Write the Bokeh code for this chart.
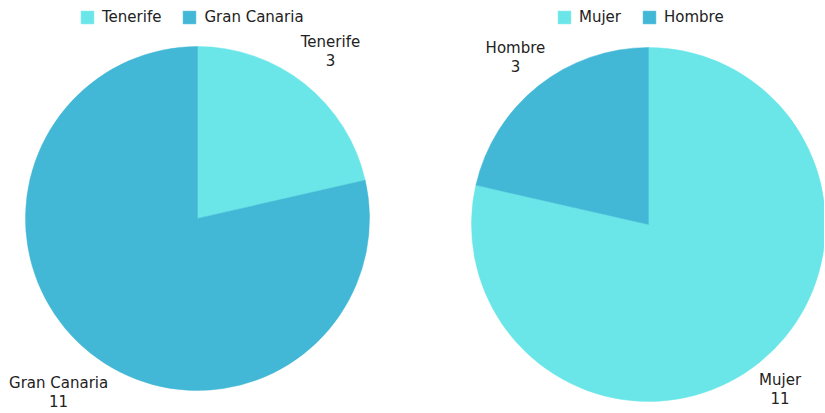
import math
from bokeh.plotting import figure
from bokeh.models import Range1d, Legend, LegendItem
from bokeh.layouts import row
from bokeh.core.properties import value
from bokeh.embed import file_html
from bokeh.resources import INLINE

# data
isla_labels = ["Tenerife", "Gran Canaria"]
isla_values = [3, 11]
sexo_labels = ["Mujer", "Hombre"]
sexo_values = [11, 3]
colors = ["#6AE6E9", "#42B8D6"]

FONT = "DejaVu Sans"
FS = 15
W, H = 412, 410


def make_pie(labels, vals, cx, cy, r, cols, leg_x):
    p = figure(width=W, height=H, output_backend="svg", toolbar_location=None,
               x_range=Range1d(0, W), y_range=Range1d(0, H), min_border=0)
    p.axis.visible = False
    p.grid.visible = False
    p.outline_line_color = None
    total = sum(vals)
    start = math.pi / 2
    starts, ends, lx, ly, txt = [], [], [], [], []
    for v, lab in zip(vals, labels):
        sweep = v / total * 2 * math.pi
        end = start - sweep
        starts.append(start)
        ends.append(end)
        mid = (start + end) / 2
        c, s = math.cos(mid), math.sin(mid)
        d = r + 22 + 2.4 * len(lab)
        lx.append(cx + d * c)
        ly.append(cy + d * s)
        txt.append(f"{lab}\n{v}")
        start = end
    items = []
    for i, lab in enumerate(labels):
        g = p.wedge(x=cx, y=cy, radius=r, start_angle=ends[i], end_angle=starts[i],
                    fill_color=cols[i], line_color=cols[i], line_width=0.5)
        items.append(LegendItem(label=lab, renderers=[g]))
    p.text(x=lx, y=ly, text=txt, text_align="center", text_baseline="middle",
           text_font=value(FONT), text_font_size=f"{FS}px", text_color="#222222",
           text_line_height=1.05)
    leg = Legend(items=items, orientation="horizontal", location=(leg_x, H - 26),
                 label_text_font=FONT, label_text_font_size=f"{FS}px",
                 label_text_color="#222222", glyph_width=16, glyph_height=16,
                 label_standoff=7, spacing=20, padding=2, margin=0,
                 border_line_color=None, background_fill_alpha=0)
    p.add_layout(leg)
    return p


p1 = make_pie(isla_labels, isla_values, 197, 192, 172, colors, 79)
p2 = make_pie(sexo_labels, sexo_values, 236, 186, 177, colors, 144)

layout = row(p1, p2)
open("out.html", "w").write(file_html(layout, INLINE))
